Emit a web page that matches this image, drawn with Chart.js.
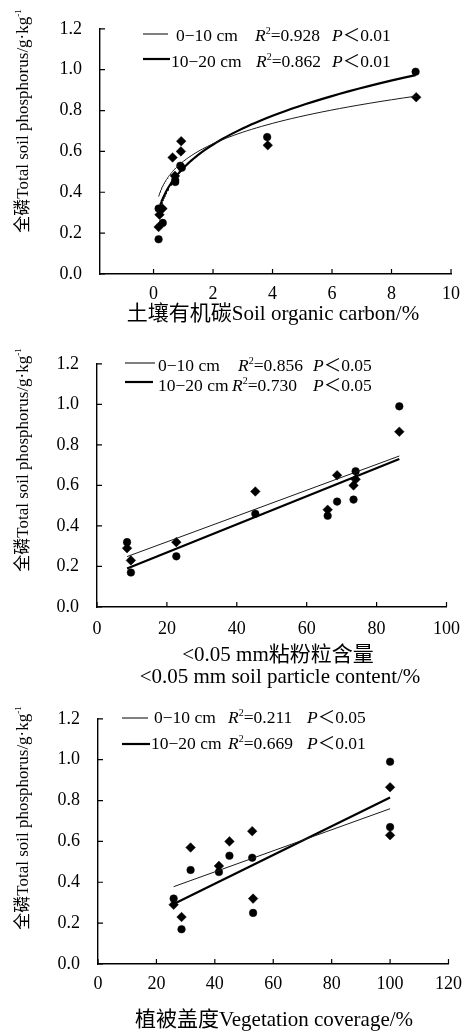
<!DOCTYPE html>
<html>
<head>
<meta charset="utf-8">
<script src="https://cdn.jsdelivr.net/npm/chart.js@4.4.1/dist/chart.umd.min.js"></script>
<style>
  html, body { margin: 0; padding: 0; background: #fff; }
  body { width: 471px; height: 1034px; position: relative; overflow: hidden; }
  canvas { position: absolute; left: 0; }
</style>
</head>
<body>
<canvas id="socChart" width="471" height="335" style="top:0"></canvas>
<canvas id="clayChart" width="471" height="355" style="top:335px"></canvas>
<canvas id="vegChart" width="471" height="344" style="top:690px"></canvas>
<script>
// total phosphorus per site (g/kg), diamonds = 0-10 cm, dots = 10-20 cm
const tp010 = [0.29, 0.23, 0.32, 0.57, 0.48, 0.65, 0.60, 0.63, 0.865];
const tp1020 = [0.32, 0.17, 0.25, 0.46, 0.45, 0.52, 0.53, 0.67, 0.99];

// explanatory variables for the same sites
const soc010 = [0.20, 0.17, 0.30, 0.64, 0.72, 0.93, 0.92, 3.84, 8.83];
const soc1020 = [0.17, 0.17, 0.31, 0.73, 0.73, 0.95, 0.90, 3.82, 8.81];
const clay = [8.6, 9.7, 22.7, 45.3, 66, 68.7, 73.4, 74, 86.5];
const vegCover = [25.9, 28.6, 53.1, 31.7, 41.4, 52.8, 45, 100, 100];

// tick labels
const tpTicks = [0, 0.2, 0.4, 0.6, 0.8, 1.0, 1.2];
const socTicks = [0, 2, 4, 6, 8, 10];
const clayTicks = [0, 20, 40, 60, 80, 100];
const vegTicks = [0, 20, 40, 60, 80, 100, 120];

// trend lines as printed: power y = a*x^b for SOC, linear y = a*x + b for the others
const socFit010 = [0.551, 0.21];
const socFit1020 = [0.518, 0.29];
const clayFit010 = [0.00637, 0.194];
const clayFit1020 = [0.00694, 0.130];
const vegFit010 = [0.00515, 0.245];
const vegFit1020 = [0.00703, 0.112];

// legend stats: [depth, R2, P]
const socStats = [['0\u221210 cm', '0.928', '0.01'], ['10\u221220 cm', '0.862', '0.01']];
const clayStats = [['0\u221210 cm', '0.856', '0.05'], ['10\u221220 cm', '0.730', '0.05']];
const vegStats = [['0\u221210 cm', '0.211', '0.05'], ['10\u221220 cm', '0.669', '0.01']];

const SERIF = '"Liberation Serif", "Times New Roman", "Noto Sans CJK SC", serif';
const LEG = 17.5;

const toPoints = (xs, ys) => xs.map((x, i) => ({ x: x, y: ys[i] }));

const powerLine = (xs, coef) => {
    const lo = Math.min(...xs), hi = Math.max(...xs);
    const pts = [];
    for (let i = 0; i <= 80; i++) {
        const x = lo * Math.pow(hi / lo, i / 80);
        pts.push({ x: x, y: coef[0] * Math.pow(x, coef[1]) });
    }
    return pts;
};

const straightLine = (xs, coef) => {
    const lo = Math.min(...xs), hi = Math.max(...xs);
    return [lo, hi].map(x => ({ x: x, y: coef[0] * x + coef[1] }));
};

// draws a run of text pieces; {t, it, sup}
const drawRich = (ctx, x, y, parts, size) => {
    parts.forEach(p => {
        const fs = p.sup ? Math.round(size * 0.55) : size;
        ctx.font = (p.it ? 'italic ' : '') + fs + 'px ' + SERIF;
        ctx.fillText(p.t, x, p.sup ? y - size * 0.4 : y);
        x += ctx.measureText(p.t).width;
    });
    return x;
};

const richWidth = (ctx, parts, size) => {
    let w = 0;
    parts.forEach(p => {
        const fs = p.sup ? Math.round(size * 0.55) : size;
        ctx.font = (p.it ? 'italic ' : '') + fs + 'px ' + SERIF;
        w += ctx.measureText(p.t).width;
    });
    return w;
};

const yTitle = [{ t: '全磷Total soil phosphorus/g·kg' }, { t: '-1', sup: true }];

const decorPlugin = {
    id: 'decor',
    afterDraw(chart) {
        const d = chart.options.plugins.decor;
        const { ctx, chartArea: a, scales: { x, y } } = chart;
        const top = d.offset;
        ctx.save();
        ctx.fillStyle = '#000';
        ctx.strokeStyle = '#000';

        // inward tick marks
        ctx.lineWidth = 1.2;
        ctx.beginPath();
        y.ticks.forEach(t => {
            const py = y.getPixelForValue(t.value);
            ctx.moveTo(a.left, py);
            ctx.lineTo(a.left + 5, py);
        });
        x.ticks.forEach(t => {
            const px = x.getPixelForValue(t.value);
            ctx.moveTo(px, a.bottom);
            ctx.lineTo(px, a.bottom - 5);
        });
        ctx.stroke();

        // legend
        d.legend.forEach((row, i) => {
            const s = d.stats[i];
            ctx.lineWidth = i === 0 ? 1 : 2.2;
            ctx.beginPath();
            ctx.moveTo(row.line[0], row.line[2] - top);
            ctx.lineTo(row.line[1], row.line[2] - top);
            ctx.stroke();
            const by = row.base - top;
            drawRich(ctx, row.tx, by, [{ t: s[0] }], LEG);
            drawRich(ctx, row.rx, by, [{ t: 'R', it: true }, { t: '2', sup: true }, { t: '=' + s[1] }], LEG);
            drawRich(ctx, row.px, by, [{ t: 'P', it: true }, { t: '\uFF1C' + s[2] }], LEG);
        });

        // x axis title
        ctx.textAlign = 'center';
        ctx.textBaseline = 'middle';
        ctx.font = '21px ' + SERIF;
        d.xTitle.forEach(l => ctx.fillText(l.t, l.x, l.y - top));

        // y axis title, rotated
        ctx.textAlign = 'left';
        ctx.textBaseline = 'alphabetic';
        ctx.translate(22, d.yCenter - top);
        ctx.rotate(-Math.PI / 2);
        const w = richWidth(ctx, yTitle, 17);
        drawRich(ctx, -w / 2, 6, yTitle, 17);
        ctx.restore();
    }
};

const makePanel = (id, cfg) => {
    const ctx = document.getElementById(id).getContext('2d');
    const h = ctx.canvas.height;
    new Chart(ctx, {
        type: 'scatter',
        data: {
            datasets: [
                { data: cfg.fitThin, showLine: true, pointRadius: 0, borderColor: '#1a1a1a', borderWidth: 1, tension: 0 },
                { data: cfg.fitThick, showLine: true, pointRadius: 0, borderColor: '#000', borderWidth: 2.2, tension: 0 },
                { data: cfg.diamonds, pointStyle: 'rectRot', pointRadius: 4.8, backgroundColor: '#000', borderColor: '#000', borderWidth: 0.5 },
                { data: cfg.dots, pointStyle: 'circle', pointRadius: 3.8, backgroundColor: '#000', borderColor: '#000', borderWidth: 0.5 }
            ]
        },
        plugins: [decorPlugin],
        options: {
            responsive: false,
            animation: false,
            devicePixelRatio: 1,
            layout: { padding: { left: 0, top: cfg.area.top, right: 471 - cfg.area.right, bottom: 0 } },
            scales: {
                x: {
                    type: 'linear',
                    min: cfg.xMin,
                    max: cfg.xMax,
                    afterBuildTicks: s => { s.ticks = cfg.xTicks.map(v => ({ value: v })); },
                    afterFit: s => { s.height = h - cfg.area.bottom; },
                    grid: { display: false, drawTicks: false },
                    border: { display: true, color: '#000', width: 1.4 },
                    ticks: { color: '#000', padding: cfg.xPad, maxRotation: 0, autoSkip: false,
                        font: { family: SERIF, size: 18 }, callback: v => String(v) }
                },
                y: {
                    min: 0,
                    max: 1.2,
                    afterBuildTicks: s => { s.ticks = tpTicks.map(v => ({ value: v })); },
                    afterFit: s => { s.width = cfg.area.left; },
                    grid: { display: false, drawTicks: false },
                    border: { display: true, color: '#000', width: 1.4 },
                    ticks: { color: '#000', padding: 18, autoSkip: false,
                        font: { family: SERIF, size: 18 }, callback: v => v.toFixed(1) }
                }
            },
            plugins: {
                legend: { display: false },
                tooltip: { enabled: false },
                decor: {
                    offset: cfg.offset,
                    stats: cfg.stats,
                    legend: cfg.legend,
                    xTitle: cfg.xTitle,
                    yCenter: cfg.yCenter
                }
            }
        }
    });
};

makePanel('socChart', {
    offset: 0,
    area: { left: 100, right: 451, top: 26, bottom: 274 },
    xMin: -1.8, xMax: 10, xTicks: socTicks, xPad: 9,
    diamonds: toPoints(soc010, tp010),
    dots: toPoints(soc1020, tp1020),
    fitThin: powerLine(soc010, socFit010),
    fitThick: powerLine(soc1020, socFit1020),
    stats: socStats,
    legend: [
        { line: [143, 168, 34], tx: 176, rx: 255, px: 332, base: 41 },
        { line: [143, 170, 59], tx: 171, rx: 256, px: 332, base: 67 }
    ],
    xTitle: [{ t: '土壤有机碳Soil organic carbon/%', x: 273, y: 314 }],
    yCenter: 121
});

makePanel('clayChart', {
    offset: 335,
    area: { left: 97, right: 452, top: 23, bottom: 272 },
    xMin: 0, xMax: 100, xTicks: clayTicks, xPad: 11,
    diamonds: toPoints(clay, tp010),
    dots: toPoints(clay, tp1020),
    fitThin: straightLine(clay, clayFit010),
    fitThick: straightLine(clay, clayFit1020),
    stats: clayStats,
    legend: [
        { line: [125, 155, 363], tx: 158, rx: 238, px: 313, base: 371 },
        { line: [125, 153, 382], tx: 158, rx: 232, px: 313, base: 391 }
    ],
    xTitle: [
        { t: '<0.05 mm粘粉粒含量', x: 278, y: 655 },
        { t: '<0.05 mm soil particle content/%', x: 280, y: 677 }
    ],
    yCenter: 460
});

makePanel('vegChart', {
    offset: 690,
    area: { left: 98, right: 449, top: 26, bottom: 274 },
    xMin: 0, xMax: 120, xTicks: vegTicks, xPad: 9,
    diamonds: toPoints(vegCover, tp010),
    dots: toPoints(vegCover, tp1020),
    fitThin: straightLine(vegCover, vegFit010),
    fitThick: straightLine(vegCover, vegFit1020),
    stats: vegStats,
    legend: [
        { line: [122, 148, 718], tx: 154, rx: 228, px: 307, base: 723 },
        { line: [122, 150, 744], tx: 151, rx: 228, px: 307, base: 749 }
    ],
    xTitle: [{ t: '植被盖度Vegetation coverage/%', x: 274, y: 1020 }],
    yCenter: 818
});
</script>
</body>
</html>
